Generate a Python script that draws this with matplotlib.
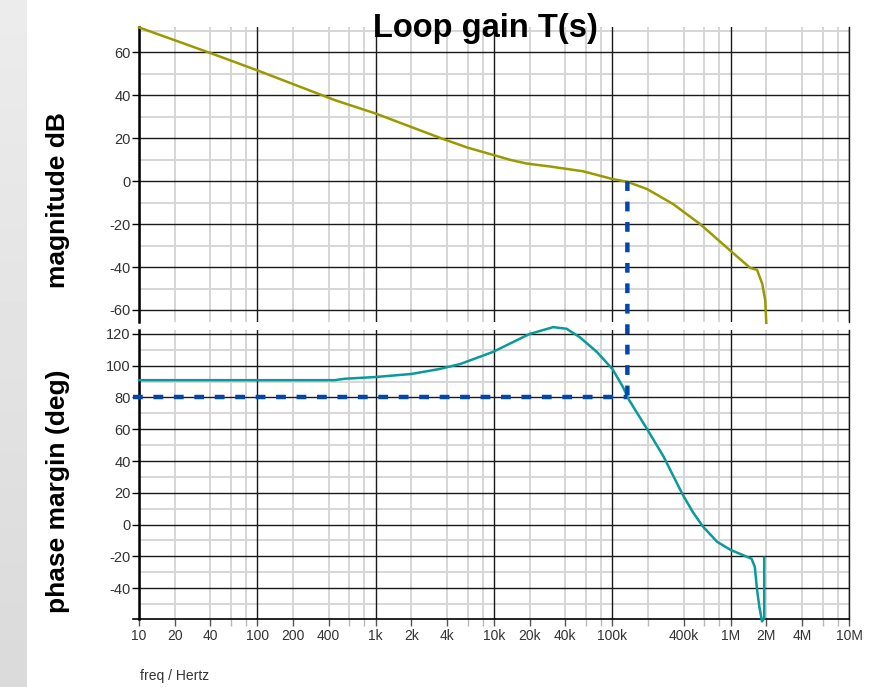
import numpy as np
import matplotlib
matplotlib.use("Agg")
import matplotlib.pyplot as plt
from matplotlib.ticker import FixedLocator, MultipleLocator, NullFormatter
from matplotlib.patches import ConnectionPatch

plt.rcParams['font.family'] = ['Liberation Sans', 'DejaVu Sans']
plt.rcParams['axes.unicode_minus'] = False

# ---- data ----
mag_freq = [10, 40, 100, 454, 1000, 3600, 6000, 10000, 14000, 18900, 30000, 56600, 100000,
            134000, 197000, 327000, 552000, 1000000, 1460000, 1670000,
            1850000, 1960000, 2000000]
mag_db = [71.6, 59.7, 51.6, 37.7, 31.5, 19.9, 15.6, 12.1, 9.8, 8.2, 6.8, 4.6, 1.0,
          -0.3, -3.7, -10.7, -20.0, -32.5, -40.4, -41.3, -47.8, -55.7, -66.0]

ph_freq = [10, 450, 550, 1000, 2000, 3500, 5200, 9800, 20000, 31600, 41000,
           53000, 74000, 100000, 123000, 137000, 197000, 270000, 374000,
           399000, 482000, 585000, 769000, 1000000, 1380000, 1500000,
           1600000, 1670000, 1750000, 1840000, 1920000, 1920000]
ph_deg = [90.9, 90.9, 91.8, 92.9, 94.8, 98.0, 101.1, 108.7, 120.0, 124.3, 123.3,
          118.0, 108.7, 98.0, 86.6, 79.0, 60.0, 43.0, 22.0,
          18.0, 7.5, -1.4, -10.9, -16.0, -20.4, -21.5,
          -26.7, -41.0, -52.0, -61.0, -59.0, -21.0]

f_cross = 134000      # 0 dB crossover frequency
pm = 80               # phase margin (deg)

xtick_vals = [10, 20, 40, 100, 200, 400, 1e3, 2e3, 4e3, 1e4, 2e4, 4e4, 1e5,
              4e5, 1e6, 2e6, 4e6, 1e7]
xtick_labels = ['10', '20', '40', '100', '200', '400', '1k', '2k', '4k', '10k',
                '20k', '40k', '100k', '400k', '1M', '2M', '4M', '10M']
mag_ticks = [-60, -40, -20, 0, 20, 40, 60]
ph_ticks = [-40, -20, 0, 20, 40, 60, 80, 100, 120]

decades = [10, 100, 1e3, 1e4, 1e5, 1e6, 1e7]
minor_x = [m * d for d in decades[:-1] for m in (2, 4, 6, 8)]

# ---- figure ----
W, H = 869, 687
fig = plt.figure(figsize=(W / 100, H / 100), dpi=100)
fig.patch.set_facecolor('white')

# left gray strip
strip = fig.add_axes([0, 0, 27 / W, 1])
grad = np.linspace(0.925, 0.855, 100).reshape(-1, 1)
strip.imshow(grad, cmap='gray', vmin=0, vmax=1, aspect='auto', extent=[0, 1, 0, 1], origin='upper')
strip.axis('off')

L = 139 / W
R = 849 / W
ax1 = fig.add_axes([L, 1 - 322 / H, R - L, (322 - 27) / H])
ax2 = fig.add_axes([L, 1 - 619 / H, R - L, (619 - 330) / H])

mag_col = '#9a9a00'
ph_col = '#0a9a9a'
dash_col = '#0046ad'
tick_col = '#333333'
minor_grid = '#d6d6d6'
major_grid = '#1a1a1a'

for ax in (ax1, ax2):
    ax.set_xscale('log')
    ax.set_xlim(10, 1e7)
    ax.yaxis.set_minor_locator(MultipleLocator(10))
    ax.xaxis.grid(False)
    ax.yaxis.grid(True, which='minor', color=minor_grid, lw=1.4, zorder=0)
    ax.yaxis.grid(True, which='major', color=major_grid, lw=1.0, zorder=1)
    for m in minor_x:
        ax.axvline(m, color=minor_grid, lw=1.4, zorder=0.5)
    for d in decades:
        ax.axvline(d, color=major_grid, lw=1.0, zorder=1)
    ax.set_axisbelow(True)
    ax.spines['top'].set_visible(False)
    ax.spines['right'].set_color(major_grid)
    ax.spines['right'].set_linewidth(1.0)
    ax.spines['left'].set_linewidth(1.8)
    ax.tick_params(axis='y', which='major', direction='out', length=5, width=1,
                   colors='black', labelcolor=tick_col, labelsize=10.5, pad=1)
    ax.tick_params(axis='y', which='minor', length=0)

# top axes
ax1.set_ylim(-65.6, 71.8)
ax1.set_yticks(mag_ticks)
ax1.spines['bottom'].set_visible(False)
ax1.xaxis.set_major_locator(FixedLocator([]))
ax1.xaxis.set_minor_locator(FixedLocator([]))
ax1.plot(mag_freq, mag_db, color=mag_col, lw=1.8, zorder=3, clip_on=False)

# bottom axes
ax2.set_ylim(-59.5, 122.5)
ax2.set_yticks(ph_ticks)
ax2.spines['bottom'].set_linewidth(1.2)
ax2.xaxis.set_major_locator(FixedLocator(xtick_vals))
ax2.set_xticklabels(xtick_labels)
ax2.xaxis.set_minor_locator(FixedLocator([m for m in minor_x if m not in xtick_vals]))
ax2.xaxis.set_minor_formatter(NullFormatter())
ax2.tick_params(axis='x', which='both', direction='out', length=5, width=1,
                labelsize=10, pad=2)
ax2.tick_params(axis='x', which='minor', colors='#b8b8b8')
ax2.tick_params(axis='x', which='major', colors='#555555', labelcolor=tick_col)
ax2.plot([-0.009, 0], [0, 0], transform=ax2.transAxes, color='black', lw=1.2, clip_on=False)
ax2.plot(ph_freq, ph_deg, color=ph_col, lw=1.8, zorder=3, clip_on=False)

# dashed phase margin markers
ax2.plot([8.9, f_cross], [pm, pm], color=dash_col, lw=3.2, dashes=(2.2, 2.4),
         solid_capstyle='butt', dash_capstyle='butt', zorder=4, clip_on=False)
con = ConnectionPatch(xyA=(f_cross, 0), coordsA=ax1.transData,
                      xyB=(f_cross, pm), coordsB=ax2.transData,
                      color=dash_col, lw=3.2, linestyle=(0, (2.2, 2.4)),
                      capstyle='butt', zorder=5)
fig.add_artist(con)

# texts
fig.text(485 / W, 1 - 37 / H, 'Loop gain T(s)', ha='center', va='baseline',
         fontsize=23.5, fontweight='bold')
fig.text(58 / W, 1 - 200 / H, 'magnitude dB', ha='center', va='center',
         rotation=90, fontsize=19, fontweight='bold')
fig.text(58 / W, 1 - 491 / H, 'phase margin (deg)', ha='center', va='center',
         rotation=90, fontsize=19, fontweight='bold')
fig.text(140 / W, 1 - 676 / H, 'freq / Hertz', ha='left', va='center',
         fontsize=10, color=tick_col)

fig.savefig('out.png', dpi=100, facecolor='white')
